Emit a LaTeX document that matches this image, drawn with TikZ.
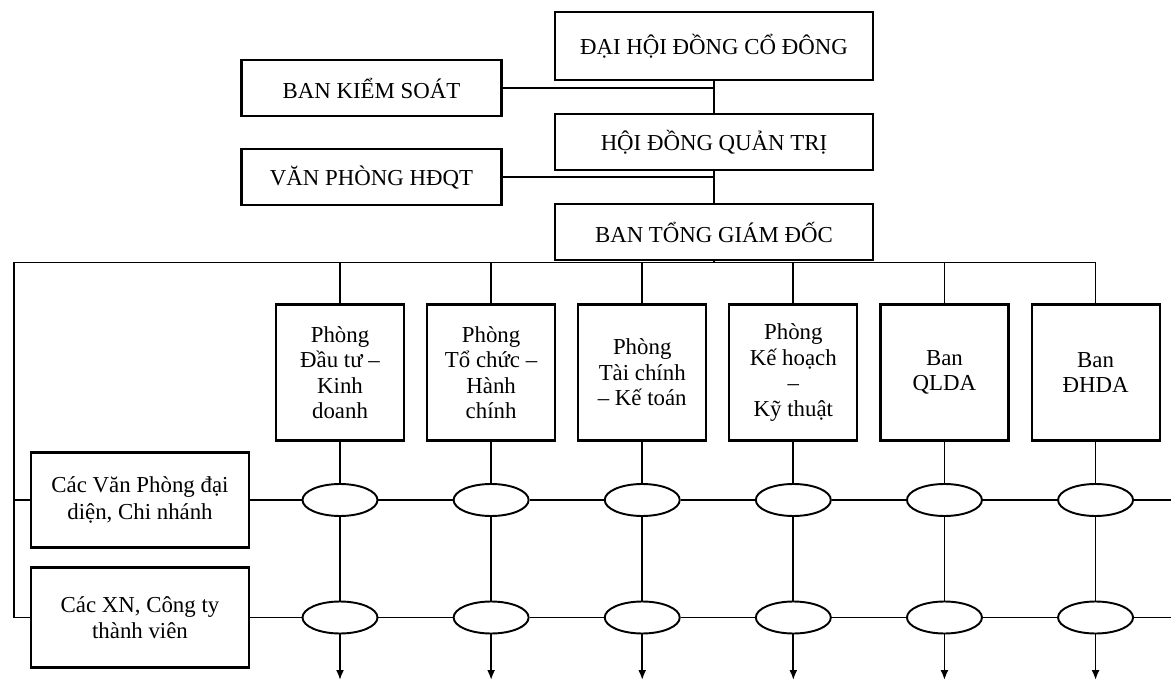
\documentclass[tikz,border=0pt]{standalone}
\usepackage{fontspec}
\setmainfont{Liberation Serif}
\usetikzlibrary{arrows.meta,positioning,shapes.geometric}
\tikzset{
 topbox/.style={draw,line width=1.2pt,align=center,minimum height=1.12cm,
             minimum width=6.36cm,font=\fontsize{13}{15}\selectfont},
 sidebox/.style={draw,line width=1.2pt,align=center,minimum height=1.12cm,
             minimum width=5.2cm,font=\fontsize{13}{15}\selectfont},
 deptbox/.style={draw,line width=1.2pt,align=center,minimum height=2.72cm,
             minimum width=2.56cm,font=\fontsize{13}{14.5}\selectfont},
 unitbox/.style={draw,line width=1.2pt,align=center,minimum width=4.36cm,
             font=\fontsize{13}{15}\selectfont},
 joint/.style={draw,line width=1.1pt,ellipse,minimum width=1.5cm,minimum height=0.64cm,inner sep=0pt},
 link/.style={line width=1pt},
 arrow/.style={-{Latex[length=2mm,width=1.6mm]},line width=1pt}
}

\begin{document}
\begin{tikzpicture}[node distance=6.4mm]
\useasboundingbox (0,0) rectangle (23.42,-13.84);
% top levels
\node[topbox,minimum height=1.36cm] (dhcd) at (14.28,-0.92) {ĐẠI HỘI ĐỒNG CỔ ĐÔNG};
\node[topbox,below=of dhcd] (hdqt) {HỘI ĐỒNG QUẢN TRỊ};
\node[topbox,below=of hdqt] (btgd) {BAN TỔNG GIÁM ĐỐC};
\node[sidebox] (bks) at (7.43,-1.76) {BAN KIỂM SOÁT};
\node[sidebox,below=6.2mm of bks] (vphd) {VĂN PHÒNG HĐQT};
% departments
\node[deptbox] (d1) at (6.8,-7.45) {Phòng\\Đầu tư –\\Kinh\\doanh};
\node[deptbox,right=4.2mm of d1] (d2) {Phòng\\Tổ chức –\\Hành\\chính};
\node[deptbox,right=4.2mm of d2] (d3) {Phòng\\Tài chính\\– Kế toán};
\node[deptbox,right=4.2mm of d3] (d4) {Phòng\\Kế hoạch\\–\\Kỹ thuật};
\node[deptbox,right=4.2mm of d4] (d5) {Ban\\QLDA};
\node[deptbox,right=4.2mm of d5] (d6) {Ban\\ĐHDA};
% units on the left
\node[unitbox,minimum height=1.9cm] (vpdd) at (2.8,-10.0) {Các Văn Phòng đại\\diện, Chi nhánh};
\node[unitbox,minimum height=2.0cm] (xn) at (2.8,-12.35) {Các XN, Công ty\\thành viên};
% free ends
\coordinate (busL) at (0.28,-5.25);
\coordinate (base) at (0,-13.6);
\coordinate (edge1) at (23.42,-10.0);
\coordinate (edge2) at (23.42,-12.35);
% crossing points
\node[joint] (e11) at (d1 |- vpdd) {};
\node[joint] (e21) at (d2 |- vpdd) {};
\node[joint] (e31) at (d3 |- vpdd) {};
\node[joint] (e41) at (d4 |- vpdd) {};
\node[joint] (e51) at (d5 |- vpdd) {};
\node[joint] (e61) at (d6 |- vpdd) {};
\node[joint] (e12) at (d1 |- xn) {};
\node[joint] (e22) at (d2 |- xn) {};
\node[joint] (e32) at (d3 |- xn) {};
\node[joint] (e42) at (d4 |- xn) {};
\node[joint] (e52) at (d5 |- xn) {};
\node[joint] (e62) at (d6 |- xn) {};

\draw[link] (dhcd)--(hdqt);
\draw[link] (hdqt)--(btgd);
\draw[link] (bks.east)--(bks.east -| hdqt.north);
\draw[link] (vphd.east)--(vphd.east -| btgd.north);
\draw[link] (btgd)--(btgd |- busL);
\draw[link] (xn.west) -| (busL)--(d6.north |- busL);
\draw[link] (vpdd.west)--(vpdd.west -| busL);
\draw[link] (d1 |- busL)--(d1);
\draw[link] (d2 |- busL)--(d2);
\draw[link] (d3 |- busL)--(d3);
\draw[link] (d4 |- busL)--(d4);
\draw[link] (d5 |- busL)--(d5);
\draw[link] (d6 |- busL)--(d6);
\draw[link] (vpdd)--(e11)--(e21)--(e31)--(e41)--(e51)--(e61)--(edge1);
\draw[link] (xn)--(e12)--(e22)--(e32)--(e42)--(e52)--(e62)--(edge2);
\draw[arrow] (d1)--(e11)--(e12)--(d1 |- base);
\draw[arrow] (d2)--(e21)--(e22)--(d2 |- base);
\draw[arrow] (d3)--(e31)--(e32)--(d3 |- base);
\draw[arrow] (d4)--(e41)--(e42)--(d4 |- base);
\draw[arrow] (d5)--(e51)--(e52)--(d5 |- base);
\draw[arrow] (d6)--(e61)--(e62)--(d6 |- base);
\end{tikzpicture}
\end{document}
